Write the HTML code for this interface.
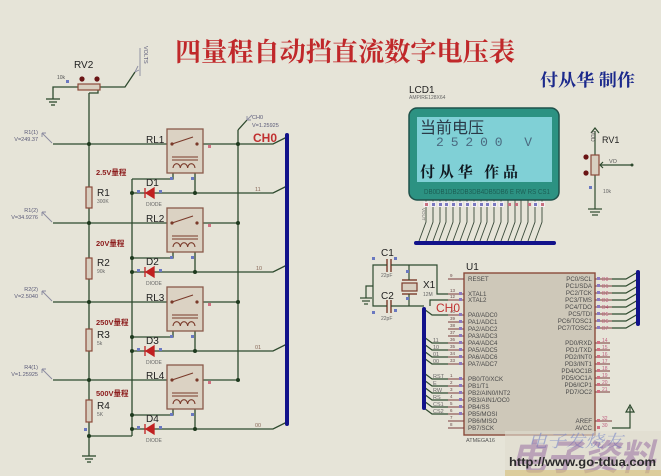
<!DOCTYPE html>
<html><head><meta charset="utf-8">
<style>
html,body{margin:0;padding:0;background:#e6e4d8;}
svg{display:block}
text{font-family:"Liberation Sans","Noto Sans CJK SC",sans-serif}
</style></head><body>
<svg width="661" height="476" viewBox="0 0 661 476" xmlns="http://www.w3.org/2000/svg">
<rect width="661" height="476" fill="#e6e4d8"/>

<!-- Title -->
<text x="175" y="61" font-size="26" font-weight="bold" fill="#c0282a" style="font-family:'Noto Serif CJK SC','Liberation Serif',serif" textLength="340" lengthAdjust="spacingAndGlyphs">四量程自动挡直流数字电压表</text>
<text x="540" y="86" font-size="17" font-weight="bold" fill="#1c2a8c" style="font-family:'Noto Serif CJK SC','Liberation Serif',serif" textLength="95" lengthAdjust="spacingAndGlyphs">付从华 制作</text>

<!-- ============ LEFT CIRCUIT ============ -->
<g stroke="#2e4a2e" stroke-width="1.3" fill="none">
  <polyline points="78,87 53,87 53,99"/>
  <line x1="46" y1="99" x2="60" y2="99"/>
  <line x1="49" y1="102" x2="57" y2="102"/>
  <line x1="51" y1="105" x2="55" y2="105"/>
  <polyline points="100,87 125,87 135,72"/>
  <polyline points="98,90 98,93 89,93"/>
  <line x1="89" y1="93" x2="89" y2="456"/>
  <line x1="82" y1="456" x2="96" y2="456"/>
  <line x1="85" y1="459" x2="93" y2="459"/>
  <line x1="87" y1="462" x2="91" y2="462"/>
  <line x1="238" y1="130" x2="238" y2="380"/>
  <line x1="238" y1="130" x2="247" y2="120"/>
  <line x1="132" y1="179" x2="132" y2="436"/>
  <line x1="89" y1="436" x2="132" y2="436"/>

  <line x1="53" y1="144" x2="172" y2="144"/>
  <polyline points="197,144 273,144 287,137"/>
  <polyline points="173,168 173,179 132,179"/>
  <line x1="195" y1="168" x2="195" y2="193"/>
  <polyline points="132,193 273,193 287,186"/>

  <line x1="53" y1="223" x2="172" y2="223"/>
  <line x1="197" y1="223" x2="238" y2="223"/>
  <polyline points="173,247 173,258 132,258"/>
  <line x1="195" y1="247" x2="195" y2="272"/>
  <polyline points="132,272 273,272 287,265"/>

  <line x1="53" y1="302" x2="172" y2="302"/>
  <line x1="197" y1="302" x2="238" y2="302"/>
  <polyline points="173,326 173,337 132,337"/>
  <line x1="195" y1="326" x2="195" y2="351"/>
  <polyline points="132,351 273,351 287,344"/>

  <line x1="53" y1="380" x2="172" y2="380"/>
  <line x1="197" y1="380" x2="238" y2="380"/>
  <polyline points="173,404 173,415 132,415"/>
  <line x1="195" y1="404" x2="195" y2="429"/>
  <polyline points="132,429 273,429 287,422"/>
</g>

<!-- probes left -->
<g stroke="#8a8aa0" stroke-width="0.9" fill="none">
  <path d="M42,133 L52,143 M42,133 l4,0 M42,133 l0,4"/>
  <path d="M42,212 L52,222 M42,212 l4,0 M42,212 l0,4"/>
  <path d="M42,291 L52,301 M42,291 l4,0 M42,291 l0,4"/>
  <path d="M42,369 L52,379 M42,369 l4,0 M42,369 l0,4"/>
  <path d="M247,120 l5,-5 M247,120 l4,0 M247,120 l0,-4"/>
  <path d="M135,72 l3,-6 M135,72 l4,-2"/>
  <line x1="140" y1="48" x2="140" y2="76"/>
</g>
<g font-size="5.5" fill="#5a5a78" text-anchor="end">
  <text x="38" y="134">R1(1)</text><text x="38" y="141">V=249.37</text>
  <text x="38" y="212">R1(2)</text><text x="38" y="219">V=34.9276</text>
  <text x="38" y="291">R2(2)</text><text x="38" y="298">V=2.5040</text>
  <text x="38" y="369">R4(1)</text><text x="38" y="376">V=1.25925</text>
</g>
<g font-size="5.5" fill="#5a5a78">
  <text x="252" y="119">CH0</text><text x="252" y="127">V=1.25925</text>
  <text x="0" y="0" transform="translate(144,46) rotate(90)">VOLTS</text>
</g>

<rect x="78" y="84" width="22" height="6" fill="#d8cfc0" stroke="#8b4a3a" stroke-width="1.2"/>
<circle cx="82" cy="79" r="2.6" fill="#6a1414"/>
<circle cx="97" cy="79" r="2.6" fill="#6a1414"/>
<rect x="66" y="80" width="3" height="3" fill="#6a78c0"/>
<text x="74" y="68" font-size="10" fill="#222">RV2</text>
<text x="57" y="79" font-size="5" fill="#555">10k</text>

<g fill="#d8cfc0" stroke="#8b4a3a" stroke-width="1.2">
  <rect x="86" y="187" width="6" height="21"/>
  <rect x="86" y="258" width="6" height="21"/>
  <rect x="86" y="329" width="6" height="22"/>
  <rect x="86" y="400" width="6" height="22"/>
</g>
<g font-size="10" fill="#222">
  <text x="97" y="196">R1</text>
  <text x="97" y="266">R2</text>
  <text x="97" y="338">R3</text>
  <text x="97" y="409">R4</text>
</g>
<g font-size="5" fill="#666">
  <text x="97" y="203">300K</text>
  <text x="97" y="273">90k</text>
  <text x="97" y="345">5k</text>
  <text x="97" y="416">5K</text>
</g>
<g font-size="7.5" font-weight="bold" fill="#8b1a1a">
  <text x="96" y="175">2.5V量程</text>
  <text x="96" y="246">20V量程</text>
  <text x="96" y="325">250V量程</text>
  <text x="96" y="396">500V量程</text>
</g>
<rect x="84" y="428" width="3" height="3" fill="#6a78c0"/>

<!-- relays -->
<g id="r1">
  <rect x="167" y="129" width="36" height="44" fill="#dbd2c3" stroke="#8b5a4a" stroke-width="1.3"/>
  <g stroke="#7a3a2a" stroke-width="1.1" fill="none">
    <line x1="172" y1="144" x2="193" y2="137"/>
    <line x1="172" y1="157" x2="198" y2="157"/>
    <line x1="172" y1="160" x2="198" y2="160"/>
    <path d="M173,168 a3.67,4.5 0 0 1 7.33,0 a3.67,4.5 0 0 1 7.33,0 a3.67,4.5 0 0 1 7.33,0"/>
  </g>
  <circle cx="172" cy="144" r="1.6" fill="#7a3a2a"/><circle cx="197" cy="144" r="1.6" fill="#7a3a2a"/>
</g>
<use href="#r1" y="79"/>
<use href="#r1" y="158"/>
<use href="#r1" y="236"/>

<g fill="#d07080">
  <rect x="208" y="145" width="3" height="3"/><rect x="208" y="224" width="3" height="3"/>
  <rect x="208" y="303" width="3" height="3"/><rect x="208" y="381" width="3" height="3"/>
</g>
<g fill="#6a78c0">
  <rect x="170" y="177" width="3" height="3"/><rect x="191" y="177" width="3" height="3"/>
  <rect x="170" y="256" width="3" height="3"/><rect x="191" y="256" width="3" height="3"/>
  <rect x="170" y="335" width="3" height="3"/><rect x="191" y="335" width="3" height="3"/>
  <rect x="170" y="413" width="3" height="3"/><rect x="191" y="413" width="3" height="3"/>
  <rect x="137" y="190" width="3" height="3"/><rect x="159" y="190" width="3" height="3"/>
  <rect x="137" y="269" width="3" height="3"/><rect x="159" y="269" width="3" height="3"/>
  <rect x="137" y="348" width="3" height="3"/><rect x="159" y="348" width="3" height="3"/>
  <rect x="137" y="426" width="3" height="3"/><rect x="159" y="426" width="3" height="3"/>
</g>

<g fill="#c02020" stroke="#c02020" stroke-width="1.3">
  <polygon points="146,193 154,188 154,198"/><line x1="145" y1="188" x2="145" y2="198"/>
  <polygon points="146,272 154,267 154,277"/><line x1="145" y1="267" x2="145" y2="277"/>
  <polygon points="146,351 154,346 154,356"/><line x1="145" y1="346" x2="145" y2="356"/>
  <polygon points="146,429 154,424 154,434"/><line x1="145" y1="424" x2="145" y2="434"/>
</g>
<g font-size="10" fill="#222">
  <text x="146" y="143">RL1</text><text x="146" y="222">RL2</text>
  <text x="146" y="301">RL3</text><text x="146" y="379">RL4</text>
  <text x="146" y="186">D1</text><text x="146" y="265">D2</text>
  <text x="146" y="344">D3</text><text x="146" y="422">D4</text>
</g>
<g font-size="5" fill="#666">
  <text x="146" y="206">DIODE</text><text x="146" y="285">DIODE</text>
  <text x="146" y="364">DIODE</text><text x="146" y="442">DIODE</text>
</g>
<g font-size="5.5" fill="#8a6a5a">
  <text x="255" y="191">11</text><text x="256" y="270">10</text>
  <text x="255" y="349">01</text><text x="255" y="427">00</text>
</g>

<g fill="#1e3a1e">
  <circle cx="89" cy="144" r="2"/><circle cx="89" cy="223" r="2"/><circle cx="89" cy="302" r="2"/><circle cx="89" cy="380" r="2"/><circle cx="89" cy="436" r="2"/>
  <circle cx="238" cy="144" r="2"/><circle cx="238" cy="223" r="2"/><circle cx="238" cy="302" r="2"/><circle cx="238" cy="380" r="2"/>
  <circle cx="132" cy="193" r="2"/><circle cx="132" cy="272" r="2"/><circle cx="132" cy="351" r="2"/><circle cx="132" cy="429" r="2"/>
  <circle cx="132" cy="258" r="2"/><circle cx="132" cy="337" r="2"/><circle cx="132" cy="415" r="2"/>
  <circle cx="195" cy="193" r="2"/><circle cx="195" cy="272" r="2"/><circle cx="195" cy="351" r="2"/><circle cx="195" cy="429" r="2"/>
</g>

<line x1="287" y1="135" x2="287" y2="424" stroke="#12128a" stroke-width="4" stroke-linecap="round"/>
<text x="253" y="142" font-size="12" font-weight="bold" fill="#c03030">CH0</text>

<!-- ============ LCD ============ -->
<text x="409" y="93" font-size="10" fill="#222">LCD1</text>
<text x="409" y="99" font-size="5" fill="#666">AMPIRE128X64</text>
<rect x="409" y="108" width="150" height="92" rx="8" fill="#2c9282" stroke="#1f514a" stroke-width="1.5"/>
<rect x="417" y="117" width="135" height="65" fill="#80d0d6"/>
<text x="420" y="133" font-size="16" fill="#2a3a48" style="font-family:'Noto Sans CJK SC',sans-serif">当前电压</text>
<text x="436" y="146" font-size="13" fill="#4a6a80" textLength="96" lengthAdjust="spacing" style="font-family:'Liberation Mono',monospace">25200 V</text>
<text x="420" y="177" font-size="15" font-weight="bold" fill="#101820" style="font-family:'Noto Serif CJK SC',serif" textLength="98" lengthAdjust="spacing">付从华  作品</text>
<text x="424" y="194" font-size="7" fill="#1c5f55" textLength="126" lengthAdjust="spacingAndGlyphs">DB0DB1DB2DB3DB4DB5DB6  E  RW RS CS1</text>

<!-- LCD pins -->
<g stroke="#3a4a3a" stroke-width="0.9" fill="none">
  <path d="M426,200 v22 l-7,19"/><path d="M433,200 v22 l-7,19"/><path d="M440,200 v22 l-7,19"/>
  <path d="M446,200 v22 l-7,19"/><path d="M453,200 v22 l-7,19"/><path d="M460,200 v22 l-7,19"/>
  <path d="M467,200 v22 l-7,19"/><path d="M474,200 v22 l-7,19"/><path d="M481,200 v22 l-7,19"/>
  <path d="M487,200 v22 l-7,19"/><path d="M494,200 v22 l-7,19"/><path d="M501,200 v22 l-7,19"/>
  <path d="M508,200 v22 l-7,19"/><path d="M515,200 v22 l-7,19"/><path d="M521,200 v22 l-7,19"/>
  <path d="M528,200 v22 l-7,19"/><path d="M535,200 v22 l-7,19"/><path d="M542,200 v22 l-7,19"/>
</g>
<g fill="#f2eef0">
  <rect x="423.5" y="201.5" width="5.5" height="5.5"/><rect x="430.5" y="201.5" width="5.5" height="5.5"/><rect x="437.5" y="201.5" width="5.5" height="5.5"/><rect x="443.5" y="201.5" width="5.5" height="5.5"/><rect x="450.5" y="201.5" width="5.5" height="5.5"/><rect x="457.5" y="201.5" width="5.5" height="5.5"/><rect x="464.5" y="201.5" width="5.5" height="5.5"/><rect x="471.5" y="201.5" width="5.5" height="5.5"/><rect x="478.5" y="201.5" width="5.5" height="5.5"/><rect x="484.5" y="201.5" width="5.5" height="5.5"/><rect x="491.5" y="201.5" width="5.5" height="5.5"/><rect x="498.5" y="201.5" width="5.5" height="5.5"/><rect x="532.5" y="201.5" width="5.5" height="5.5"/><rect x="539.5" y="201.5" width="5.5" height="5.5"/>
</g>
<g fill="#c87080">
  <rect x="425" y="203" width="3" height="3"/><rect x="508" y="203" width="3" height="3"/><rect x="515" y="203" width="3" height="3"/><rect x="528" y="203" width="3" height="3"/><rect x="541" y="203" width="3" height="3"/>
</g>
<g fill="#7a78c0">
  <rect x="432" y="203" width="3" height="3"/><rect x="439" y="203" width="3" height="3"/><rect x="445" y="203" width="3" height="3"/><rect x="452" y="203" width="3" height="3"/><rect x="459" y="203" width="3" height="3"/><rect x="466" y="203" width="3" height="3"/><rect x="473" y="203" width="3" height="3"/><rect x="480" y="203" width="3" height="3"/><rect x="486" y="203" width="3" height="3"/><rect x="493" y="203" width="3" height="3"/><rect x="500" y="203" width="3" height="3"/><rect x="534" y="203" width="3" height="3"/>
</g>
<g font-size="4.5" fill="#777">
  <text transform="translate(422,208) rotate(90)">VOUT</text>
</g>
<line x1="416" y1="243" x2="554" y2="243" stroke="#12128a" stroke-width="4" stroke-linecap="round"/>

<!-- RV1 -->
<g stroke="#2e4a2e" stroke-width="1.2" fill="none">
  <line x1="595" y1="131" x2="595" y2="209"/>
  <line x1="588" y1="209" x2="602" y2="209"/>
  <line x1="590" y1="212" x2="600" y2="212"/>
  <line x1="592" y1="215" x2="598" y2="215"/>
  <line x1="600" y1="165" x2="632" y2="165"/>
  <polyline points="603,162 600,165 603,168"/>
  <polyline points="591,133 595,128 599,133"/>
</g>
<circle cx="632" cy="165" r="1.5" fill="#2e4a2e"/>
<rect x="591" y="155" width="8" height="20" fill="#d8cfc0" stroke="#8b4a3a" stroke-width="1.2"/>
<circle cx="586" cy="157" r="2.6" fill="#6a1414"/>
<circle cx="586" cy="173" r="2.6" fill="#6a1414"/>
<rect x="589" y="186" width="3" height="3" fill="#6a78c0"/>
<text x="602" y="143" font-size="9" fill="#222">RV1</text>
<text x="609" y="163" font-size="5.5" fill="#555">VO</text>
<text x="603" y="193" font-size="5" fill="#666">10k</text>
<text transform="translate(591,131) rotate(90)" font-size="5" fill="#555">VDD</text>

<!-- ============ MCU ============ -->
<g stroke="#7a3a2a" stroke-width="1.4" fill="none">
  <line x1="387" y1="259" x2="387" y2="272"/><line x1="391" y1="259" x2="391" y2="272"/>
  <line x1="387" y1="300" x2="387" y2="313"/><line x1="391" y1="300" x2="391" y2="313"/>
  <line x1="402" y1="280" x2="417" y2="280"/><line x1="402" y1="294" x2="417" y2="294"/>
</g>
<rect x="402" y="283" width="15" height="8" fill="#d8cfc0" stroke="#7a3a2a" stroke-width="1.2"/>
<g stroke="#2e4a2e" stroke-width="1.2" fill="none">
  <polyline points="387,265 373,265 373,306 387,306"/>
  <polyline points="391,265 437,265 437,294 448,294"/>
  <line x1="391" y1="306" x2="424" y2="306"/>
  <line x1="409" y1="265" x2="409" y2="280"/><line x1="409" y1="294" x2="409" y2="306"/>
  <polyline points="373,286 366,286 366,298"/>
  <line x1="360" y1="298" x2="372" y2="298"/>
  <line x1="362" y1="301" x2="370" y2="301"/>
  <line x1="364" y1="304" x2="368" y2="304"/>
  <polyline points="430,306 430,300 448,300"/>
  <polyline points="424,309 432,315 448,315"/>
  <polyline points="424,337 432,343 448,343"/>
  <polyline points="424,344 432,350 448,350"/>
  <polyline points="424,351 432,357 448,357"/>
  <polyline points="424,358 432,364 448,364"/>
  <polyline points="424,373 432,379 448,379"/>
  <polyline points="424,380 432,386 448,386"/>
  <polyline points="424,387 432,393 448,393"/>
  <polyline points="424,394 432,400 448,400"/>
  <polyline points="424,401 432,407 448,407"/>
  <polyline points="424,408 432,414 448,414"/>
  <polyline points="612,279 626,279 638,272"/>
  <polyline points="612,286 626,286 638,279"/>
  <polyline points="612,293 626,293 638,286"/>
  <polyline points="612,300 626,300 638,293"/>
  <polyline points="612,307 626,307 638,300"/>
  <polyline points="612,314 626,314 638,307"/>
  <polyline points="612,321 626,321 638,314"/>
  <polyline points="612,328 626,328 638,321"/>
  <polyline points="612,428 630,428 630,407"/>
</g>
<polygon points="626,412 630,405 634,412" fill="none" stroke="#2e4a2e" stroke-width="1.2"/>
<g fill="#6a78c0">
  <rect x="372" y="257" width="3" height="3"/><rect x="394" y="257" width="3" height="3"/>
  <rect x="406" y="270" width="3" height="3"/><rect x="406" y="297" width="3" height="3"/>
  <rect x="372" y="311" width="3" height="3"/><rect x="394" y="309" width="3" height="3"/>
</g>
<text x="381" y="256" font-size="10" fill="#222">C1</text>
<text x="381" y="299" font-size="10" fill="#222">C2</text>
<text x="381" y="277" font-size="5" fill="#666">22pF</text>
<text x="381" y="320" font-size="5" fill="#666">22pF</text>
<text x="423" y="288" font-size="10" fill="#222">X1</text>
<text x="423" y="296" font-size="5" fill="#666">12M</text>

<line x1="424" y1="309" x2="424" y2="408" stroke="#12128a" stroke-width="4" stroke-linecap="round"/>
<line x1="638" y1="272" x2="638" y2="324" stroke="#12128a" stroke-width="4" stroke-linecap="round"/>

<rect x="464" y="273" width="131" height="162" fill="#cec8b9" stroke="#8b4a3a" stroke-width="1.4"/>
<text x="466" y="270" font-size="10" fill="#222">U1</text>
<text x="466" y="442" font-size="5.5" fill="#555">ATMEGA16</text>

<g stroke="#7a3a3a" stroke-width="1">
  <line x1="448" y1="279" x2="464" y2="279"/><line x1="448" y1="294" x2="464" y2="294"/><line x1="448" y1="300" x2="464" y2="300"/>
  <line x1="448" y1="315" x2="464" y2="315"/><line x1="448" y1="322" x2="464" y2="322"/><line x1="448" y1="329" x2="464" y2="329"/><line x1="448" y1="336" x2="464" y2="336"/>
  <line x1="448" y1="343" x2="464" y2="343"/><line x1="448" y1="350" x2="464" y2="350"/><line x1="448" y1="357" x2="464" y2="357"/><line x1="448" y1="364" x2="464" y2="364"/>
  <line x1="448" y1="379" x2="464" y2="379"/><line x1="448" y1="386" x2="464" y2="386"/><line x1="448" y1="393" x2="464" y2="393"/><line x1="448" y1="400" x2="464" y2="400"/>
  <line x1="448" y1="407" x2="464" y2="407"/><line x1="448" y1="414" x2="464" y2="414"/><line x1="448" y1="421" x2="464" y2="421"/><line x1="448" y1="428" x2="464" y2="428"/>
  <line x1="595" y1="279" x2="612" y2="279"/><line x1="595" y1="286" x2="612" y2="286"/><line x1="595" y1="293" x2="612" y2="293"/><line x1="595" y1="300" x2="612" y2="300"/>
  <line x1="595" y1="307" x2="612" y2="307"/><line x1="595" y1="314" x2="612" y2="314"/><line x1="595" y1="321" x2="612" y2="321"/><line x1="595" y1="328" x2="612" y2="328"/>
  <line x1="595" y1="343" x2="610" y2="343"/><line x1="595" y1="350" x2="610" y2="350"/><line x1="595" y1="357" x2="610" y2="357"/><line x1="595" y1="364" x2="610" y2="364"/>
  <line x1="595" y1="371" x2="610" y2="371"/><line x1="595" y1="378" x2="610" y2="378"/><line x1="595" y1="385" x2="610" y2="385"/><line x1="595" y1="392" x2="610" y2="392"/>
  <line x1="595" y1="421" x2="612" y2="421"/>
</g>
<g fill="#8a78c0">
  <rect x="459" y="292" width="3" height="3"/><rect x="459" y="298" width="3" height="3"/>
  <rect x="459" y="313" width="3" height="3"/><rect x="459" y="320" width="3" height="3"/><rect x="459" y="327" width="3" height="3"/><rect x="459" y="334" width="3" height="3"/>
  <rect x="459" y="341" width="3" height="3"/><rect x="459" y="348" width="3" height="3"/><rect x="459" y="355" width="3" height="3"/><rect x="459" y="362" width="3" height="3"/>
  <rect x="459" y="377" width="3" height="3"/><rect x="459" y="384" width="3" height="3"/><rect x="459" y="391" width="3" height="3"/><rect x="459" y="398" width="3" height="3"/><rect x="459" y="405" width="3" height="3"/><rect x="459" y="412" width="3" height="3"/>
  <rect x="597" y="277" width="3" height="3"/><rect x="597" y="284" width="3" height="3"/><rect x="597" y="291" width="3" height="3"/><rect x="597" y="298" width="3" height="3"/>
  <rect x="597" y="305" width="3" height="3"/><rect x="597" y="312" width="3" height="3"/><rect x="597" y="319" width="3" height="3"/><rect x="597" y="326" width="3" height="3"/>
</g>
<g fill="#d07080">
  <rect x="597" y="341" width="3" height="3"/><rect x="597" y="348" width="3" height="3"/><rect x="597" y="355" width="3" height="3"/><rect x="597" y="362" width="3" height="3"/>
  <rect x="597" y="369" width="3" height="3"/><rect x="597" y="376" width="3" height="3"/><rect x="597" y="383" width="3" height="3"/><rect x="597" y="390" width="3" height="3"/>
  <rect x="597" y="419" width="3" height="3"/><rect x="597" y="426" width="3" height="3"/>
</g>
<g font-size="4.5" fill="#6a4a4a">
  <text x="450" y="277">9</text><text x="450" y="292">13</text><text x="450" y="298">12</text>
  <text x="450" y="313">40</text><text x="450" y="320">39</text><text x="450" y="327">38</text><text x="450" y="334">37</text>
  <text x="450" y="341">36</text><text x="450" y="348">35</text><text x="450" y="355">34</text><text x="450" y="362">33</text>
  <text x="450" y="377">1</text><text x="450" y="384">2</text><text x="450" y="391">3</text><text x="450" y="398">4</text>
  <text x="450" y="405">5</text><text x="450" y="412">6</text><text x="450" y="419">7</text><text x="450" y="426">8</text>
</g>
<g font-size="5" fill="#c06080">
  <text x="602" y="281">D0</text><text x="602" y="288">D1</text><text x="602" y="295">D2</text><text x="602" y="302">D3</text>
  <text x="602" y="309">D4</text><text x="602" y="316">D5</text><text x="602" y="323">D6</text><text x="602" y="330">D7</text>
  <text x="602" y="342">14</text><text x="602" y="349">15</text><text x="602" y="356">16</text><text x="602" y="363">17</text>
  <text x="602" y="370">18</text><text x="602" y="377">19</text><text x="602" y="384">20</text><text x="602" y="391">21</text>
  <text x="602" y="420">32</text><text x="602" y="427">30</text>
</g>
<g font-size="5.5" fill="#6a6a6a">
  <text x="433" y="342">11</text><text x="433" y="349">10</text><text x="433" y="356">01</text><text x="433" y="363">00</text>
  <text x="433" y="378">RST</text><text x="433" y="385">E</text><text x="433" y="392">RW</text><text x="433" y="399">RS</text>
  <text x="433" y="406">CS1</text><text x="433" y="413">CS2</text>
</g>
<text x="436" y="312" font-size="12" fill="#c03030">CH0</text>

<g font-size="6.2" fill="#4a4a4a">
  <text x="468" y="281">RESET</text><text x="468" y="296">XTAL1</text><text x="468" y="302">XTAL2</text>
  <text x="468" y="317">PA0/ADC0</text><text x="468" y="324">PA1/ADC1</text><text x="468" y="331">PA2/ADC2</text><text x="468" y="338">PA3/ADC3</text>
  <text x="468" y="345">PA4/ADC4</text><text x="468" y="352">PA5/ADC5</text><text x="468" y="359">PA6/ADC6</text><text x="468" y="366">PA7/ADC7</text>
  <text x="468" y="381">PB0/T0/XCK</text><text x="468" y="388">PB1/T1</text><text x="468" y="395">PB2/AIN0/INT2</text><text x="468" y="402">PB3/AIN1/OC0</text>
  <text x="468" y="409">PB4/SS</text><text x="468" y="416">PB5/MOSI</text><text x="468" y="423">PB6/MISO</text><text x="468" y="430">PB7/SCK</text>
</g>
<g font-size="6.2" fill="#4a4a4a" text-anchor="end">
  <text x="592" y="281">PC0/SCL</text><text x="592" y="288">PC1/SDA</text><text x="592" y="295">PC2/TCK</text><text x="592" y="302">PC3/TMS</text>
  <text x="592" y="309">PC4/TDO</text><text x="592" y="316">PC5/TDI</text><text x="592" y="323">PC6/TOSC1</text><text x="592" y="330">PC7/TOSC2</text>
  <text x="592" y="345">PD0/RXD</text><text x="592" y="352">PD1/TXD</text><text x="592" y="359">PD2/INT0</text><text x="592" y="366">PD3/INT1</text>
  <text x="592" y="373">PD4/OC1B</text><text x="592" y="380">PD5/OC1A</text><text x="592" y="387">PD6/ICP1</text><text x="592" y="394">PD7/OC2</text>
  <text x="592" y="423">AREF</text><text x="592" y="430">AVCC</text>
</g>

<!-- watermark -->
<rect x="505" y="431" width="156" height="45" fill="#e0dccf" opacity="0.6"/>
<text x="528" y="447" font-size="17" font-style="italic" fill="#7f8cc8" opacity="0.65" style="font-family:'Noto Serif CJK SC',serif" textLength="95" lengthAdjust="spacingAndGlyphs">电子发烧友</text>
<text x="510" y="470" font-size="36" font-weight="bold" font-style="italic" fill="#8a5a9a" opacity="0.45" style="font-family:'Noto Sans CJK SC',sans-serif" textLength="145" lengthAdjust="spacingAndGlyphs">电子资料</text>
<text x="509" y="466" font-size="12" font-weight="bold" fill="#2a2a2a" textLength="147" lengthAdjust="spacingAndGlyphs">http://www.go-tdua.com</text>
<rect x="505" y="470" width="156" height="6" fill="#d9c27a" opacity="0.6"/>
</svg>
</body></html>
